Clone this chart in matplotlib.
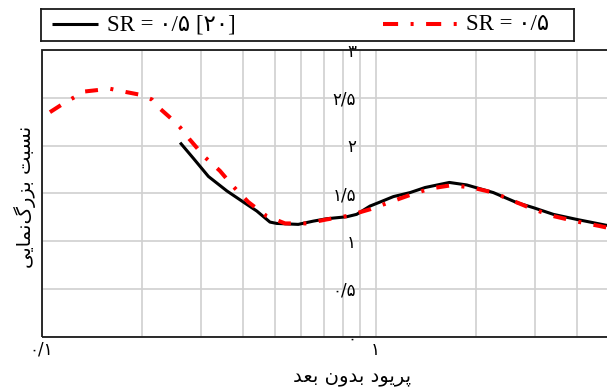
import matplotlib
matplotlib.use("Agg")
import matplotlib.pyplot as plt
from matplotlib.ticker import FixedLocator, NullFormatter, FixedFormatter
from matplotlib.lines import Line2D
from matplotlib.patches import Rectangle

# ---------------------------------------------------------------- data
# SR = 0.5 reference curve [20]
period_ref = [0.260, 0.285, 0.316, 0.359, 0.402, 0.441, 0.483, 0.506, 0.587,
              0.651, 0.714, 0.820, 0.878, 0.963, 1.032, 1.131, 1.269, 1.407,
              1.663, 1.875, 2.253, 2.647, 2.969, 3.407, 4.003, 4.933]
ratio_ref = [2.03, 1.865, 1.676, 1.524, 1.408, 1.314, 1.198, 1.184, 1.174,
             1.208, 1.233, 1.254, 1.279, 1.366, 1.408, 1.465, 1.507, 1.56,
             1.613, 1.587, 1.507, 1.402, 1.349, 1.279, 1.226, 1.163]

# SR = 0.5 present study
period_sr = [0.106, 0.116, 0.122, 0.135, 0.153, 0.160, 0.179, 0.197, 0.214,
             0.224, 0.245, 0.260, 0.277, 0.297, 0.305, 0.342, 0.375, 0.416,
             0.472, 0.536, 0.622, 0.714, 0.820, 0.963, 1.080, 1.269, 1.456,
             1.690, 1.941, 2.253, 2.586, 2.969, 3.407, 3.956, 4.700, 4.933]
ratio_sr = [2.349, 2.437, 2.482, 2.566, 2.587, 2.595, 2.56, 2.532, 2.482,
            2.40, 2.279, 2.19, 2.068, 1.945, 1.893, 1.735, 1.571, 1.408,
            1.261, 1.184, 1.184, 1.226, 1.261, 1.332, 1.395, 1.482, 1.549,
            1.584, 1.56, 1.507, 1.419, 1.332, 1.261, 1.208, 1.156, 1.14]

y_ticks = [0, 0.5, 1, 1.5, 2, 2.5, 3]
y_tick_labels = ["0", "0.5", "1", "1.5", "2", "2.5", "3"]
x_ticks = [0.1, 1, 10]
x_tick_labels = ["0.1", "1", "10"]
x_minor = [0.2, 0.3, 0.4, 0.5, 0.6, 0.7, 0.8, 0.9, 2, 3, 4, 5, 6, 7, 8, 9]

legend_ref = "SR = 0.5 [20]"
legend_sr = "SR = 0.5"
x_title = "پریود بدون بعد"
y_title = "نسبت بزرگ\u200cنمایی"

# ---------------------------------------------------------------- text helpers
FA_DIGITS = str.maketrans("0123456789.", "۰۱۲۳۴۵۶۷۸۹/")


def fa_num(s):
    return s.translate(FA_DIGITS)


# isolated, final, initial, medial
FORMS = {
    "ا": ("\uFE8D", "\uFE8E", None, None),
    "ب": ("\uFE8F", "\uFE90", "\uFE91", "\uFE92"),
    "پ": ("\uFB56", "\uFB57", "\uFB58", "\uFB59"),
    "ت": ("\uFE95", "\uFE96", "\uFE97", "\uFE98"),
    "د": ("\uFEA9", "\uFEAA", None, None),
    "ر": ("\uFEAD", "\uFEAE", None, None),
    "ز": ("\uFEAF", "\uFEB0", None, None),
    "س": ("\uFEB1", "\uFEB2", "\uFEB3", "\uFEB4"),
    "ع": ("\uFEC9", "\uFECA", "\uFECB", "\uFECC"),
    "گ": ("\uFB92", "\uFB93", "\uFB94", "\uFB95"),
    "م": ("\uFEE1", "\uFEE2", "\uFEE3", "\uFEE4"),
    "ن": ("\uFEE5", "\uFEE6", "\uFEE7", "\uFEE8"),
    "و": ("\uFEED", "\uFEEE", None, None),
    "ی": ("\uFBFC", "\uFBFD", "\uFBFE", "\uFBFF"),
}


def shape_fa(text):
    """Contextual shaping + visual (right-to-left) ordering for Persian."""
    out = []
    n = len(text)
    for i, ch in enumerate(text):
        if ch not in FORMS:
            if ch != "\u200c":
                out.append(ch)
            continue
        f = FORMS[ch]
        prev = text[i - 1] if i > 0 else None
        nxt = text[i + 1] if i + 1 < n else None
        join_prev = prev in FORMS and FORMS[prev][2] is not None
        join_next = nxt in FORMS and f[2] is not None
        if join_prev and join_next:
            out.append(f[3])
        elif join_prev:
            out.append(f[1])
        elif join_next:
            out.append(f[2])
        else:
            out.append(f[0])
    return "".join(reversed(out))


FA_FONT = ["DejaVu Sans"]
LEG_FONT = ["Liberation Serif", "DejaVu Sans"]

# ---------------------------------------------------------------- figure
W, H = 607, 392
fig = plt.figure(figsize=(W / 100, H / 100), dpi=100)


def px_box(x0, y0, x1, y1):
    return [x0 / W, 1 - y1 / H, (x1 - x0) / W, (y1 - y0) / H]


ax = fig.add_axes(px_box(41.5, 50, 609, 336.5))
ax.set_xscale("log")
ax.set_xlim(0.1, 5)
ax.set_ylim(0, 3)

ax.plot(period_ref, ratio_ref, color="black", lw=2.2, solid_capstyle="butt",
        zorder=3)
ax.plot(period_sr, ratio_sr, color="#ff0000", lw=2.9,
        dashes=(3.2, 3.1, 0.75, 3.1), dash_capstyle="butt", zorder=4)

# axes, ticks and grid
ax.xaxis.set_major_locator(FixedLocator(x_ticks))
ax.xaxis.set_major_formatter(FixedFormatter([fa_num(t) for t in x_tick_labels]))
ax.xaxis.set_minor_locator(FixedLocator(x_minor))
ax.xaxis.set_minor_formatter(NullFormatter())
ax.yaxis.set_major_locator(FixedLocator(y_ticks))
ax.yaxis.set_major_formatter(FixedFormatter([fa_num(t) for t in y_tick_labels]))
ax.tick_params(which="both", length=0)
ax.tick_params(axis="x", pad=3, labelsize=12)
ax.tick_params(axis="y", pad=3, labelsize=12)
for lab in ax.get_xticklabels() + ax.get_yticklabels():
    lab.set_family(FA_FONT)

ax.grid(True, which="both", color="#d0d0d0", lw=1.2, zorder=0)
ax.set_axisbelow(True)

# vertical axis crosses at 0.9; frame drawn separately
ax.spines["left"].set_position(("data", 0.9))
for s in ax.spines.values():
    s.set_visible(False)
ax.add_patch(Rectangle((0, 0), 1, 1, transform=ax.transAxes, fill=False,
                       ec="#1a1a1a", lw=1.3, clip_on=False, zorder=5))

fig.text(352 / W, 1 - 377 / H, shape_fa(x_title), ha="center", va="center",
         fontsize=14, family=FA_FONT)
fig.text(25 / W, 1 - 197 / H, shape_fa(y_title), ha="center", va="center",
         rotation=90, fontsize=14, family=FA_FONT)

# legend box
lg = fig.add_axes(px_box(41, 9, 574, 41))
lg.set_xlim(41, 574)
lg.set_ylim(41, 9)
lg.set_xticks([])
lg.set_yticks([])
for s in lg.spines.values():
    s.set_color("#1a1a1a")
    s.set_linewidth(1.3)
lg.add_line(Line2D([51.7, 98.3], [24.3, 24.3], color="black", lw=2.2,
                   solid_capstyle="butt"))
lg.text(107, 25, fa_num(legend_ref), ha="left", va="center", fontsize=16.5,
        family=LEG_FONT)
lg.add_line(Line2D([383, 457], [24.3, 24.3], color="#ff0000", lw=2.9,
                   dashes=(3.75, 3.1, 0.75, 3.1), dash_capstyle="butt"))
lg.text(466, 25, fa_num(legend_sr), ha="left", va="center", fontsize=16.5,
        family=LEG_FONT)

fig.savefig("out.png", dpi=100)
